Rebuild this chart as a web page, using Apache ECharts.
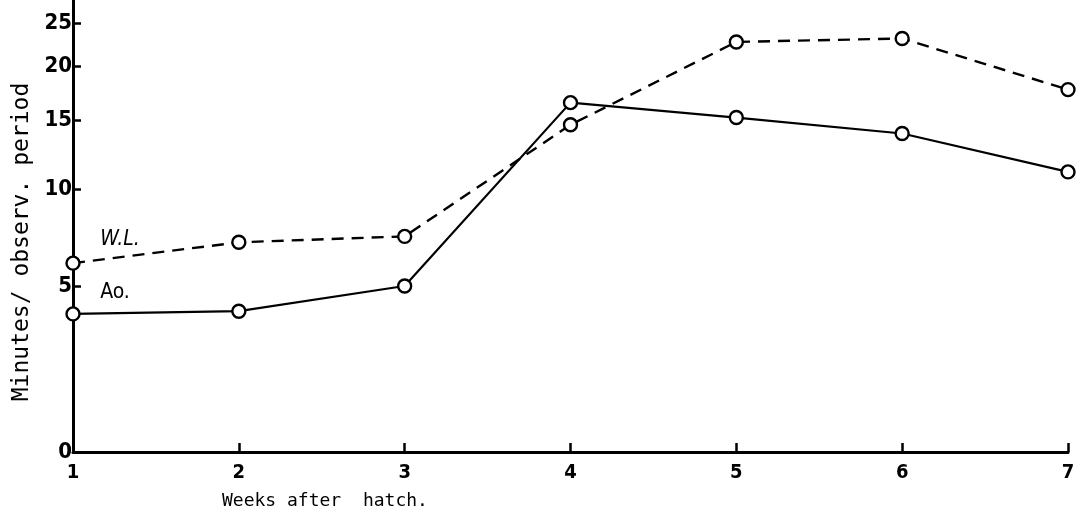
<!DOCTYPE html>
<html>
<head>
<meta charset="utf-8">
<script src="https://cdn.jsdelivr.net/npm/echarts@6/dist/echarts.min.js"></script>
<style>
html,body{margin:0;padding:0;background:#fff;}
#chart{width:1081px;height:518px;}
</style>
</head>
<body>
<div id="chart"></div>
<script>
// Data
var weeks = [1, 2, 3, 4, 5, 6, 7];
var wlValues = [6.0, 7.0, 7.3, 14.6, 22.7, 23.1, 17.7];   // W.L. (dashed)
var aoValues = [3.9, 4.0, 5.0, 16.5, 15.2, 13.9, 11.1];   // Ao. (solid)
var yTicks = [0, 5, 10, 15, 20, 25];
var xTicks = [1, 2, 3, 4, 5, 6, 7];
var seriesNames = ['W.L.', 'Ao.'];
var xTitle = 'Weeks after  hatch.';
var yTitle = 'Minutes/ observ. period';

// The original y axis is scaled as log10(value + 5)
var OFFSET = 5;
function fwd(v) { return Math.log10(v + OFFSET); }
function inv(t) { return Math.pow(10, t) - OFFSET; }

function pairs(vals) {
  return weeks.map(function (w, i) { return [w, fwd(vals[i])]; });
}

var fam = '"DejaVu Sans Condensed", "DejaVu Sans", sans-serif';

var chart = echarts.init(document.getElementById('chart'), null, {renderer: 'canvas'});

var wlData = pairs(wlValues);
var aoData = pairs(aoValues);
wlData[0] = {value: wlData[0], label: {show: true, formatter: seriesNames[0], position: 'inside', offset: [47, -24],
  color: '#000', fontSize: 21, fontStyle: 'italic', fontFamily: fam}};
aoData[0] = {value: aoData[0], label: {show: true, formatter: seriesNames[1], position: 'inside', offset: [42, -21],
  color: '#000', fontSize: 21, fontFamily: fam}};

var option = {
  backgroundColor: '#fff',
  animation: false,
  grid: {left: 73, right: 13, top: 0, bottom: 66, containLabel: false, outerBoundsMode: 'none'},
  xAxis: {
    type: 'value',
    min: 1, max: 7, interval: 1,
    axisLine: {show: true, lineStyle: {color: '#000', width: 3}},
    axisTick: {show: true, inside: true, length: 9, lineStyle: {color: '#000', width: 2.5}},
    axisLabel: {margin: 11, color: '#000', fontFamily: fam, fontWeight: 'bold', fontSize: 20,
      formatter: function (v) { return xTicks.indexOf(v) >= 0 ? String(v) : ''; }},
    splitLine: {show: false}
  },
  yAxis: {
    type: 'value',
    min: fwd(0), max: Math.log10(33),
    name: yTitle,
    nameLocation: 'middle',
    nameRotate: 90,
    nameGap: 39,
    nameTextStyle: {color: '#000', fontSize: 23, fontFamily: '"DejaVu Sans Mono", monospace', padding: [0, 0, 0, -32]},
    axisLine: {show: true, onZero: false, lineStyle: {color: '#000', width: 3}},
    axisTick: {show: true, inside: true, length: 8, lineStyle: {color: '#000', width: 2.5},
      customValues: yTicks.map(fwd)},
    axisLabel: {margin: 1, color: '#000', fontFamily: fam, fontWeight: 'bold', fontSize: 22,
      customValues: yTicks.map(fwd),
      formatter: function (t) { return String(Math.round(inv(t))); }},
    splitLine: {show: false}
  },
  graphic: [{
    type: 'text',
    left: 222, top: 492,
    style: {text: xTitle, fill: '#000', font: '18px "DejaVu Sans Mono", monospace'}
  }],
  series: [{
    name: seriesNames[0],
    type: 'line',
    data: wlData,
    symbol: 'circle',
    symbolSize: 13,
    itemStyle: {color: '#fff', borderColor: '#000', borderWidth: 2.4},
    lineStyle: {color: '#000', width: 2.4, type: [12, 8]},
    z: 3
  }, {
    name: seriesNames[1],
    type: 'line',
    data: aoData,
    symbol: 'circle',
    symbolSize: 13,
    itemStyle: {color: '#fff', borderColor: '#000', borderWidth: 2.4},
    lineStyle: {color: '#000', width: 2.2},
    z: 4
  }]
};
chart.setOption(option);
</script>
</body>
</html>
